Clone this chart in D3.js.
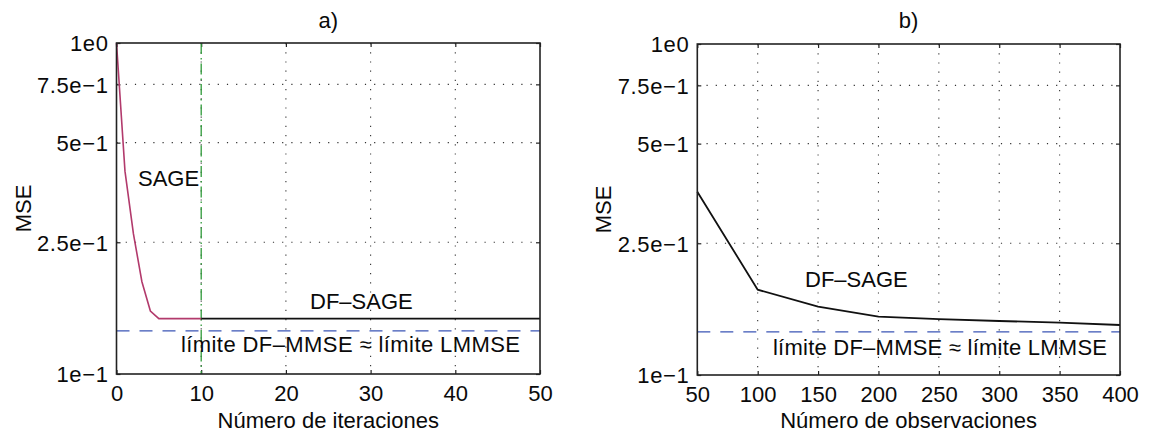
<!DOCTYPE html>
<html>
<head>
<meta charset="utf-8">
<script src="https://cdn.jsdelivr.net/npm/d3@7"></script>
<style>
  html, body { margin: 0; padding: 0; background: #fff; }
  svg text { font-family: "Liberation Sans", Arial, Helvetica, sans-serif; fill: #0a0a0a; }
</style>
</head>
<body>
<svg id="chart" width="1149" height="436"></svg>
<script>
// ---- data ----
const sageIter = [0, 1, 2, 3, 4, 5, 6, 7, 8, 9, 10];
const sageMSE  = [1.0, 0.41, 0.265, 0.19, 0.155, 0.147, 0.147, 0.147, 0.147, 0.147, 0.147];
const dfsageIter = [10, 20, 30, 40, 50];
const dfsageIterMSE = [0.147, 0.147, 0.147, 0.147, 0.147];
const obsCount = [50, 100, 150, 200, 250, 300, 350, 400];
const dfsageObsMSE = [0.358, 0.181, 0.161, 0.150, 0.1476, 0.1456, 0.144, 0.1416];
const boundMSE = 0.135;
const switchIter = 10;
const xTicksA = [0, 10, 20, 30, 40, 50];
const xTicksB = [50, 100, 150, 200, 250, 300, 350, 400];
const yTicks = [0.1, 0.25, 0.5, 0.75, 1];
const yTickLabels = ["1e\u22121", "2.5e\u22121", "5e\u22121", "7.5e\u22121", "1e0"];
const titles = ["a)", "b)"];
const xLabels = ["Número de iteraciones", "Número de observaciones"];
const yLabel = "MSE";

// ---- layout ----
const svg = d3.select("#chart");
const FS = 22;
const panels = [
  { left: 116.5, right: 540, top: 43, bottom: 374, xDomain: [0, 50], xTicks: xTicksA },
  { left: 697.3, right: 1120, top: 44, bottom: 375, xDomain: [50, 400], xTicks: xTicksB }
];

panels.forEach((p, i) => {
  const g = svg.append("g");
  const x = d3.scaleLinear().domain(p.xDomain).range([p.left, p.right]);
  const y = d3.scaleLog().domain([0.1, 1]).range([p.bottom, p.top]);
  p.x = x; p.y = y; p.g = g;

  // grid (dotted)
  const gridStyle = sel => sel.attr("stroke", "#333").attr("stroke-width", 1.1)
    .attr("stroke-dasharray", "1.2,8").attr("fill", "none");
  g.append("g").selectAll("line").data(p.xTicks.slice(1, -1)).join("line")
    .attr("x1", d => x(d)).attr("x2", d => x(d))
    .attr("y1", p.top).attr("y2", p.bottom).call(gridStyle);
  g.append("g").selectAll("line").data(yTicks.slice(1, -1)).join("line")
    .attr("x1", p.left).attr("x2", p.right)
    .attr("y1", d => y(d)).attr("y2", d => y(d)).call(gridStyle);

  // axes via d3 axis (ticks inward)
  const xAxis = d3.axisBottom(x).tickValues(p.xTicks).tickSize(-4).tickPadding(11)
    .tickFormat(d3.format("d"));
  const gx = g.append("g").attr("transform", `translate(0,${p.bottom})`).call(xAxis);
  const xTop = d3.axisTop(x).tickValues(p.xTicks).tickSize(-4).tickFormat("");
  const gxt = g.append("g").attr("transform", `translate(0,${p.top})`).call(xTop);
  const yAxis = d3.axisLeft(y).tickValues(yTicks).tickSize(-4).tickPadding(8)
    .tickFormat((d, k) => yTickLabels[k]);
  const gy = g.append("g").attr("transform", `translate(${p.left},0)`).call(yAxis);
  const yRight = d3.axisRight(y).tickValues(yTicks).tickSize(-4).tickFormat("");
  const gyr = g.append("g").attr("transform", `translate(${p.right},0)`).call(yRight);
  [gx, gxt, gy, gyr].forEach(a => {
    a.select(".domain").remove();
    a.selectAll(".tick line").attr("stroke", "#222").attr("stroke-width", 1.2);
    a.selectAll("text").style("font-size", FS + "px")
      .style("font-family", '"Liberation Sans", Arial, sans-serif').attr("fill", "#0a0a0a");
  });
  gy.selectAll(".tick text").attr("dy", "0.36em").attr("letter-spacing", "0.6px");

  // title and labels
  g.append("text").attr("x", (p.left + p.right) / 2).attr("y", 28)
    .attr("text-anchor", "middle").style("font-size", FS + "px").text(titles[i]);
  g.append("text").attr("x", (p.left + p.right) / 2).attr("y", 428)
    .attr("text-anchor", "middle").style("font-size", FS + "px").text(xLabels[i]);
  g.append("text")
    .attr("transform", `translate(${p.left - 86},${(p.top + p.bottom) / 2}) rotate(-90)`)
    .attr("text-anchor", "middle").style("font-size", FS + "px").text(yLabel);
});

// ---- panel a ----
(function () {
  const p = panels[0], g = p.g, x = p.x, y = p.y;
  g.append("line").attr("x1", p.left).attr("x2", p.right)
    .attr("y1", y(boundMSE)).attr("y2", y(boundMSE))
    .attr("stroke", "#3b55b5").attr("stroke-width", 1.3).attr("stroke-dasharray", "13,10");
  g.append("line").attr("x1", x(switchIter)).attr("x2", x(switchIter))
    .attr("y1", p.top).attr("y2", p.bottom)
    .attr("stroke", "#2f9a3a").attr("stroke-width", 1.3).attr("stroke-dasharray", "11,4,1.5,4");
  const line = d3.line().x(d => x(d[0])).y(d => y(d[1]));
  g.append("path").datum(dfsageIter.map((d, k) => [d, dfsageIterMSE[k]]))
    .attr("d", line).attr("fill", "none").attr("stroke", "#111").attr("stroke-width", 1.6);
  g.append("path").datum(sageIter.map((d, k) => [d, sageMSE[k]]))
    .attr("d", line).attr("fill", "none").attr("stroke", "#b23a6c").attr("stroke-width", 1.6);

  g.append("text").attr("x", 138).attr("y", 186).style("font-size", FS + "px").text("SAGE");
  g.append("text").attr("x", 310).attr("y", 309).style("font-size", FS + "px").text("DF\u2013SAGE");
  g.append("text").attr("x", 181).attr("y", 352).style("font-size", FS + "px")
    .attr("textLength", 339).attr("lengthAdjust", "spacing")
    .text("límite DF\u2013MMSE \u2248 límite LMMSE");
})();

// ---- panel b ----
(function () {
  const p = panels[1], g = p.g, x = p.x, y = p.y;
  g.append("line").attr("x1", p.left).attr("x2", p.right)
    .attr("y1", y(boundMSE)).attr("y2", y(boundMSE))
    .attr("stroke", "#3b55b5").attr("stroke-width", 1.3).attr("stroke-dasharray", "13,10");
  const line = d3.line().x(d => x(d[0])).y(d => y(d[1]));
  g.append("path").datum(obsCount.map((d, k) => [d, dfsageObsMSE[k]]))
    .attr("d", line).attr("fill", "none").attr("stroke", "#111").attr("stroke-width", 1.8);
  g.append("text").attr("x", 805).attr("y", 287).style("font-size", FS + "px").text("DF\u2013SAGE");
  g.append("text").attr("x", 773).attr("y", 355).style("font-size", FS + "px")
    .attr("textLength", 334).attr("lengthAdjust", "spacing")
    .text("límite DF\u2013MMSE \u2248 límite LMMSE");
})();

// boxes on top
panels.forEach(p => {
  p.g.append("rect").attr("x", p.left).attr("y", p.top)
    .attr("width", p.right - p.left).attr("height", p.bottom - p.top)
    .attr("fill", "none").attr("stroke", "#222").attr("stroke-width", 1.6);
});
</script>
</body>
</html>
